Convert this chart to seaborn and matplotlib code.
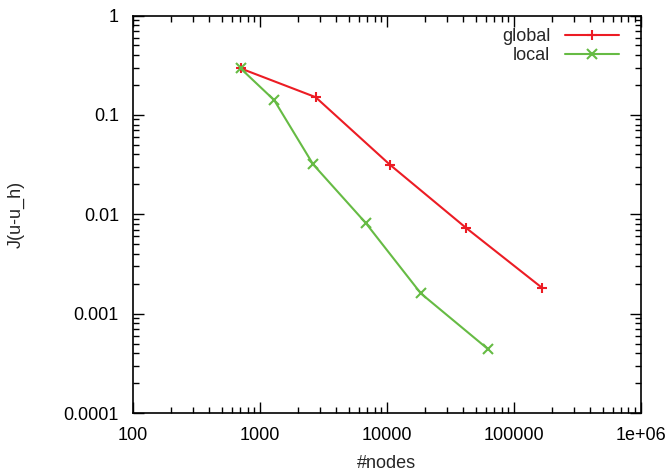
import numpy as np
import pandas as pd
import matplotlib
matplotlib.use("Agg")
import matplotlib.pyplot as plt
import seaborn as sns
from matplotlib.ticker import FixedLocator, LogLocator, NullFormatter

# data
global_nodes = [705, 2746, 10560, 41900, 166000]
global_err = [0.294, 0.151, 0.0316, 0.00733, 0.00183]
local_nodes = [705, 1296, 2628, 6795, 18530, 62100]
local_err = [0.294, 0.141, 0.0318, 0.00823, 0.0016, 0.000444]

x_ticks = [100, 1000, 10000, 100000, 1000000]
x_labels = ["100", "1000", "10000", "100000", "1e+06"]
y_ticks = [0.0001, 0.001, 0.01, 0.1, 1]
y_labels = ["0.0001", "0.001", "0.01", "0.1", "1"]

df = pd.DataFrame({
    "nodes": global_nodes + local_nodes,
    "err": global_err + local_err,
    "series": ["global"] * len(global_nodes) + ["local"] * len(local_nodes),
})

sns.set_style("white")
plt.rcParams["font.family"] = ["Liberation Sans", "DejaVu Sans"]

fig = plt.figure(figsize=(6.71, 4.71), dpi=100)
ax = fig.add_axes([0.198, 0.123, 0.757, 0.844])

palette = {"global": "#ec1c24", "local": "#66bb44"}
sns.lineplot(data=df, x="nodes", y="err", hue="series", style="series",
             markers={"global": "+", "local": "x"}, dashes=False,
             palette=palette, linewidth=1.5, markersize=7.5, markeredgewidth=1.5,
             ax=ax)

# seaborn paints marker edges white; gnuplot-style crosses need the line colour
for ln in ax.get_lines():
    ln.set_markeredgecolor(ln.get_color())

ax.set_xscale("log")
ax.set_yscale("log")
ax.set_xlim(100, 1e6)
ax.set_ylim(1e-4, 1)

ax.xaxis.set_major_locator(FixedLocator(x_ticks))
ax.set_xticklabels(x_labels)
ax.yaxis.set_major_locator(FixedLocator(y_ticks))
ax.set_yticklabels(y_labels)
ax.xaxis.set_minor_locator(LogLocator(base=10, subs=np.arange(2, 10)))
ax.yaxis.set_minor_locator(LogLocator(base=10, subs=np.arange(2, 10)))
ax.xaxis.set_minor_formatter(NullFormatter())
ax.yaxis.set_minor_formatter(NullFormatter())

ax.tick_params(which="both", direction="in", top=True, right=True,
               bottom=True, left=True, colors="black", labelsize=13)
ax.tick_params(which="major", length=8, width=1, pad=10)
ax.tick_params(which="minor", length=4, width=1)
for s in ax.spines.values():
    s.set_color("black")
    s.set_linewidth(1.2)

ax.set_xlabel("#nodes", fontsize=13, labelpad=8)
ax.set_ylabel("J(u-u_h)", fontsize=13, labelpad=28)

leg = ax.legend(loc="upper right", bbox_to_anchor=(0.982, 1.0), frameon=False,
                markerfirst=False, fontsize=13, handlelength=3.0,
                labelspacing=0.1, borderaxespad=0.3)
for h in leg.get_lines():
    h.set_markeredgecolor(h.get_color())

fig.savefig("out.png", dpi=100)
